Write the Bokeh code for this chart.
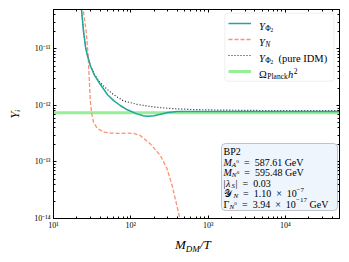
import math
from bokeh.plotting import figure
from bokeh.models import (Label, BoxAnnotation, Legend, LegendItem, LogAxis,
                          FixedTicker, CustomJSTickFormatter, Range1d, Div)
from bokeh.layouts import column
from bokeh.embed import file_html
from bokeh.resources import INLINE

# ---------------- data ----------------
x_phi2 = [21.5, 23, 24.5, 26.2, 28, 30, 34, 40, 50, 60, 73, 90, 120, 145,
          165, 200, 250, 300, 400, 700, 50000]
y_phi2 = [1.5e-10, 5e-11, 2e-11, 1e-11, 7e-12, 5e-12, 3.4e-12, 2.4e-12,
          1.55e-12, 1.22e-12, 1e-12, 8.4e-13, 7.1e-13, 6.6e-13, 6.45e-13,
          6.6e-13, 7.1e-13, 7.5e-13, 7.8e-13, 7.85e-13, 7.85e-13]

x_N = [22.5, 24.2, 26.5, 28.0, 29.0, 29.8, 31.0, 33.0, 36.6, 44, 55, 70, 90,
       110, 132, 178, 240, 293, 341, 394, 430, 470]
y_N = [2e-10, 5e-11, 2e-11, 8e-12, 3e-12, 1.3e-12, 7.5e-13, 5e-13, 4e-13,
       3.4e-13, 3.25e-13, 3.2e-13, 3.25e-13, 3.2e-13, 2.95e-13, 2.1e-13,
       1.32e-13, 7.7e-14, 3.9e-14, 1.7e-14, 1e-14, 5e-15]

x_idm = [21.5, 23, 24.5, 26.2, 28, 30, 34, 40, 50, 60, 81, 120, 170, 250,
         350, 600, 1300, 5000, 50000]
y_idm = [1.5e-10, 5e-11, 2e-11, 1e-11, 7.1e-12, 5.1e-12, 3.5e-12, 2.55e-12,
         1.9e-12, 1.55e-12, 1.2e-12, 1.05e-12, 9.7e-13, 9.1e-13, 8.8e-13,
         8.5e-13, 8.3e-13, 8.15e-13, 8.1e-13]

y_planck = 7.44e-13

x_lim = [10, 5e4]
y_lim = [1e-14, 5e-11]

x_tick_exps = [1, 2, 3, 4]
x_tick_labels = ["10\u00b9", "10\u00b2", "10\u00b3", "10\u2074"]
y_tick_exps = [-14, -13, -12, -11]
y_tick_labels = ["10\u207b\u00b9\u2074", "10\u207b\u00b9\u00b3",
                 "10\u207b\u00b9\u00b2", "10\u207b\u00b9\u00b9"]

y_label = "Y\u1d62"
x_label_main, x_label_sub, x_label_tail = "M", "DM", "/T"

# ---------------- style ----------------
FONT = "Liberation Serif"
C_PHI2 = "#20a69c"
C_N = "#f99272"
C_IDM = "#222222"
C_PL = "#90ee90"

W = 349
H_FIG = 232
H_XLAB = 30
FL, FB = 53, 220          # frame left / bottom in page pixels


def sx(px):
    return px - FL


def sy(py):
    return FB - py


p = figure(width=W, height=H_FIG, x_axis_type="log", y_axis_type="log",
           x_range=Range1d(*x_lim), y_range=Range1d(*y_lim),
           output_backend="svg", toolbar_location=None,
           min_border_left=53, min_border_right=10, min_border_top=9,
           min_border_bottom=12)
p.background_fill_color = "white"
p.border_fill_color = "white"
p.outline_line_color = "black"
p.xgrid.visible = False
p.ygrid.visible = False

x_major = [10.0 ** e for e in x_tick_exps]
x_minor = [m * 10.0 ** e for e in range(1, 5) for m in range(2, 10)]
y_major = [10.0 ** e for e in y_tick_exps]
y_minor = [m * 10.0 ** e for e in range(-14, -10) for m in range(2, 10)]

fmt_code = """
const e = Math.round(Math.log10(tick));
const i = exps.indexOf(e);
return i >= 0 ? labels[i] : "";
"""
xfmt = CustomJSTickFormatter(args=dict(exps=x_tick_exps, labels=x_tick_labels), code=fmt_code)
yfmt = CustomJSTickFormatter(args=dict(exps=y_tick_exps, labels=y_tick_labels), code=fmt_code)
blank = CustomJSTickFormatter(code="return '';")


def style_axis(ax, show):
    ax.axis_line_color = "black"
    ax.major_tick_in = 3
    ax.major_tick_out = 0
    ax.minor_tick_in = 2
    ax.minor_tick_out = 0
    ax.major_tick_line_color = "black"
    ax.minor_tick_line_color = "black"
    ax.major_label_text_font = FONT
    ax.major_label_text_color = "black"
    if show:
        ax.major_label_text_font_size = "8px"
    else:
        ax.major_label_text_font_size = "1px"
        ax.major_label_standoff = 0


xa = p.xaxis[0]
xa.ticker = FixedTicker(ticks=x_major, minor_ticks=x_minor)
xa.formatter = xfmt
style_axis(xa, True)
xa.major_label_standoff = 2

ya = p.yaxis[0]
ya.ticker = FixedTicker(ticks=y_major, minor_ticks=y_minor)
ya.formatter = yfmt
style_axis(ya, True)
ya.major_label_standoff = 3
ya.axis_label = y_label
ya.axis_label_text_font = FONT
ya.axis_label_text_font_style = "italic"
ya.axis_label_text_font_size = "13px"
ya.axis_label_text_color = "black"
ya.axis_label_standoff = 9

top_ax = LogAxis(ticker=FixedTicker(ticks=x_major, minor_ticks=x_minor), formatter=blank)
style_axis(top_ax, False)
p.add_layout(top_ax, "above")
right_ax = LogAxis(ticker=FixedTicker(ticks=y_major, minor_ticks=y_minor), formatter=blank)
style_axis(right_ax, False)
p.add_layout(right_ax, "right")

# ---------------- curves ----------------
r_pl = p.line(x_lim, [y_planck, y_planck], line_color=C_PL, line_width=3, line_alpha=0.95)
r_idm = p.line(x_idm, y_idm, line_color=C_IDM, line_width=1.2, line_dash="1 2")
r_N = p.line(x_N, y_N, line_color=C_N, line_width=1.3, line_dash="4 2")
r_phi2 = p.line(x_phi2, y_phi2, line_color=C_PHI2, line_width=1.5)

# ---------------- legend frame (drawn first), Bokeh legend glyphs, rich text ----------------
LEG_L, LEG_R, LEG_T, LEG_B = 224.3, 333.3, 14.7, 82.7
p.add_layout(BoxAnnotation(left=sx(LEG_L), right=sx(LEG_R), top=sy(LEG_T), bottom=sy(LEG_B),
                           left_units="screen", right_units="screen",
                           top_units="screen", bottom_units="screen",
                           fill_color="white", fill_alpha=0.8,
                           line_color="#cccccc", line_width=1, border_radius=3))

legend = Legend(items=[LegendItem(label=" ", renderers=[r_phi2]),
                       LegendItem(label=" ", renderers=[r_N]),
                       LegendItem(label=" ", renderers=[r_idm]),
                       LegendItem(label=" ", renderers=[r_pl])],
                location=(sx(LEG_L), sy(LEG_B)), padding=4, spacing=4, margin=0,
                glyph_width=23, glyph_height=12, label_height=12, label_width=71,
                label_standoff=7, label_text_font_size="8px",
                border_line_alpha=0, background_fill_alpha=0)
p.add_layout(legend)


def txt(s, px, py, size, italic=False):
    p.add_layout(Label(x=sx(px), y=sy(py), x_units="screen", y_units="screen",
                       text=s, text_font=FONT, text_font_size=f"{size}px",
                       text_font_style="italic" if italic else "normal",
                       text_color="black", text_baseline="alphabetic",
                       text_align="left", level="overlay"))


LX = 258.5
rows = [28.2, 44.2, 60.2, 76.2]
# row 1: Y_{Phi_2}
txt("Y", LX, rows[0], 10.5, True)
txt("\u03a6", LX + 6.3, rows[0] + 2, 7.5)
txt("2", LX + 11.6, rows[0] + 3.5, 5.5)
# row 2: Y_N
txt("Y", LX, rows[1], 10.5, True)
txt("N", LX + 6.3, rows[1] + 2, 7.5, True)
# row 3: Y_{Phi_2} (pure IDM)
txt("Y", LX, rows[2], 10.5, True)
txt("\u03a6", LX + 6.3, rows[2] + 2, 7.5)
txt("2", LX + 11.6, rows[2] + 3.5, 5.5)
txt("(pure IDM)", LX + 19.5, rows[2], 10.5)
# row 4: Omega_Planck h^2
txt("\u03a9", LX, rows[3], 10.5)
txt("Planck", LX + 8.3, rows[3] + 2, 7.5)
txt("h", LX + 29, rows[3], 10.5, True)
txt("2", LX + 34.8, rows[3] - 4, 7.5)

# ---------------- info box ----------------
p.add_layout(BoxAnnotation(left=sx(221), right=sx(337), top=sy(145), bottom=sy(212),
                           left_units="screen", right_units="screen",
                           top_units="screen", bottom_units="screen",
                           fill_color="#eef5fc", fill_alpha=1.0,
                           line_color="#444444", line_width=1, border_radius=4))
BX = 223
EQ = "\u2002=\u2002"
TM = "\u2002\u00d7\u2002"
lines = [153, 163.5, 174, 184.5, 195, 205.5]
txt("BP2", BX, lines[0], 10)
txt("M", BX, lines[1], 10, True)
txt("A", BX + 8.3, lines[1] + 2.5, 7, True)
txt("0", BX + 12.8, lines[1] - 0.5, 5)
txt(EQ + "587.61 GeV", BX + 15.5, lines[1], 10)
txt("M", BX, lines[2], 10, True)
txt("N", BX + 8.3, lines[2] + 2.5, 7, True)
txt("0", BX + 13.2, lines[2] - 0.5, 5)
txt(EQ + "595.48 GeV", BX + 15.8, lines[2], 10)
txt("|", BX, lines[3], 10)
txt("\u03bb", BX + 2.5, lines[3], 10, True)
txt("S", BX + 8, lines[3] + 2.5, 7, True)
txt("|" + EQ + "0.03", BX + 12, lines[3], 10)
txt("\U0001d4b4", BX, lines[4], 10)
txt("N", BX + 10, lines[4] + 2.5, 7, True)
txt(EQ + "1.10" + TM + "10", BX + 14.5, lines[4], 10)
txt("\u22127", BX + 73, lines[4] - 4, 7)
txt("\u0393", BX, lines[5], 10)
txt("N", BX + 6, lines[5] + 2.5, 7, True)
txt("0", BX + 10.7, lines[5] - 0.5, 5)
txt(EQ + "3.94" + TM + "10", BX + 13.5, lines[5], 10)
txt("\u221217", BX + 72.5, lines[5] - 4, 7)
txt("GeV", BX + 86, lines[5], 10)

# ---------------- x axis label (rich text below the figure) ----------------
xlab_html = (
    '<div style="padding-left:175px; padding-top:6px; font-family:\'Liberation Serif\';'
    ' font-size:13px; line-height:13px; white-space:nowrap; color:black;">'
    f'<i>{x_label_main}</i>'
    f'<i style="font-size:9px; position:relative; top:2.5px;">{x_label_sub}</i>'
    f'<i>{x_label_tail}</i></div>'
)
xlab = Div(text=xlab_html, width=W, height=H_XLAB, margin=(0, 0, 0, 0))

layout = column(p, xlab, spacing=0)
open("out.html", "w").write(file_html(layout, INLINE))
